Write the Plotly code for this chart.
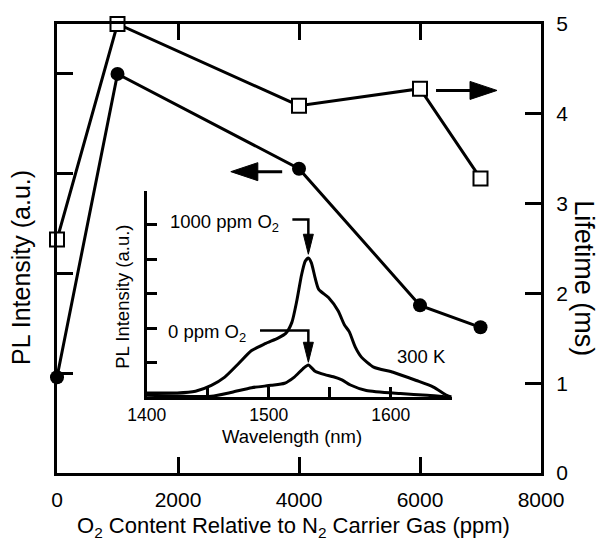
import plotly.graph_objects as go

# ---- main data ----
o2_ppm = [0, 1000, 4000, 6000, 7000]
pl_intensity = [0.96, 4.0, 3.05, 1.68, 1.46]
lifetime_ms = [2.6, 5.0, 4.09, 4.28, 3.28]

# ---- inset spectra ----
wl_1000 = [1400, 1425, 1440, 1453, 1464, 1475, 1486, 1497, 1508, 1514, 1519, 1523, 1527, 1530,
           1532.5, 1535, 1538, 1541, 1549, 1557, 1562, 1566, 1571, 1576, 1586, 1602, 1621, 1635,
           1646, 1650]
int_1000 = [0.12, 0.12, 0.17, 0.34, 0.58, 0.96, 1.35, 1.55, 1.72, 1.85, 2.17, 2.79, 3.56, 3.95,
            4.04, 3.9, 3.47, 3.13, 2.89, 2.5, 2.1, 1.9, 1.45, 1.16, 0.87, 0.72, 0.48, 0.29,
            0.05, 0.0]
wl_0 = [1400, 1425, 1453, 1470, 1486, 1502, 1513, 1521, 1528, 1532.5, 1538, 1546, 1553, 1560,
        1567, 1580, 1608, 1630, 1646]
int_0 = [0.05, 0.03, 0.02, 0.14, 0.27, 0.34, 0.40, 0.58, 0.82, 0.93, 0.75, 0.65, 0.59, 0.5,
         0.35, 0.19, 0.1, 0.05, 0.0]

main_xticks = [0, 2000, 4000, 6000, 8000]
right_ticks = [0, 1, 2, 3, 4, 5]
left_ticks = [1, 2, 3, 4]
inset_xticks = [1400, 1450, 1500, 1550, 1600, 1650]
inset_xtext = ["1400", "", "1500", "", "1600", ""]
inset_yticks = [1, 2, 3, 4, 5, 6]

FONT = "Liberation Sans, Arial, sans-serif"
BLACK = "black"

fig = go.Figure()

fig.add_trace(go.Scatter(x=o2_ppm, y=lifetime_ms, yaxis="y2", mode="lines+markers",
                         line=dict(color=BLACK, width=3),
                         marker=dict(symbol="square", size=14, color="white",
                                     line=dict(color=BLACK, width=2)),
                         cliponaxis=False, showlegend=False))
fig.add_trace(go.Scatter(x=o2_ppm, y=pl_intensity, yaxis="y", mode="lines+markers",
                         line=dict(color=BLACK, width=3),
                         marker=dict(symbol="circle", size=14, color=BLACK),
                         cliponaxis=False, showlegend=False))

fig.add_trace(go.Scatter(x=wl_1000, y=int_1000, xaxis="x3", yaxis="y3", mode="lines",
                         line=dict(color=BLACK, width=3, shape="spline", smoothing=0.6),
                         showlegend=False))
fig.add_trace(go.Scatter(x=wl_0, y=int_0, xaxis="x3", yaxis="y3", mode="lines",
                         line=dict(color=BLACK, width=3, shape="spline", smoothing=0.6),
                         showlegend=False))

axis_common = dict(showgrid=False, zeroline=False, showline=True, linecolor=BLACK,
                   linewidth=3, ticks="inside", tickcolor=BLACK)

fig.update_layout(
    width=600, height=540, autosize=False,
    margin=dict(l=57, r=59, t=22, b=67),
    paper_bgcolor="white", plot_bgcolor="rgba(0,0,0,0)",
    font=dict(family=FONT, color=BLACK, size=20),
    xaxis=dict(domain=[0, 1], range=[0, 8000], tickvals=main_xticks, ticklen=16, tickwidth=3,
               mirror="ticks", tickfont=dict(size=21), ticklabelstandoff=6, **axis_common),
    yaxis=dict(range=[0, 4.5], tickvals=left_ticks, showticklabels=False, ticklen=16,
               tickwidth=3, side="left", **axis_common),
    yaxis2=dict(range=[0, 5], tickvals=right_ticks, overlaying="y", side="right", ticklen=16,
                tickwidth=3, tickfont=dict(size=21), ticklabelstandoff=8, **axis_common),
    xaxis3=dict(domain=[0.1853, 0.8155], anchor="y3", range=[1400, 1650],
                tickvals=inset_xticks, ticktext=inset_xtext, ticklen=10, tickwidth=3,
                tickfont=dict(size=17.5), **axis_common),
    yaxis3=dict(domain=[0.1692, 0.629], anchor="x3", range=[0, 6], tickvals=inset_yticks,
                showticklabels=False, ticklen=10, tickwidth=3, **axis_common),
)

# axis titles as annotations
fig.add_annotation(text="O<sub>2</sub> Content Relative to N<sub>2</sub> Carrier Gas (ppm)",
                   xref="paper", yref="paper", x=0.4886, y=-0.12, xanchor="center",
                   yanchor="middle", showarrow=False, font=dict(size=22))
fig.add_annotation(text="PL Intensity (a.u.)", xref="paper", yref="paper", x=-0.0744,
                   y=0.459, textangle=-90, xanchor="center", yanchor="middle",
                   showarrow=False, font=dict(size=25))
fig.add_annotation(text="Lifetime (ms)", xref="paper", yref="paper", x=1.09, y=0.435,
                   textangle=90, xanchor="center", yanchor="middle", showarrow=False,
                   font=dict(size=27))
fig.add_annotation(text="Wavelength (nm)", xref="x3 domain", yref="y3 domain", x=0.476,
                   y=-0.19, xanchor="center", yanchor="middle", showarrow=False,
                   font=dict(size=18.5))
fig.add_annotation(text="PL Intensity (a.u.)", xref="x3 domain", yref="y3 domain", x=-0.078,
                   y=0.485, textangle=-90, xanchor="center", yanchor="middle",
                   showarrow=False, font=dict(size=18.5))

# inset labels
fig.add_annotation(text="1000 ppm O<sub>2</sub>", xref="x3", yref="y3", x=1417.5, y=5.05,
                   xanchor="left", yanchor="middle", showarrow=False, font=dict(size=18.5))
fig.add_annotation(text="0 ppm O<sub>2</sub>", xref="x3", yref="y3", x=1415.5, y=1.85,
                   xanchor="left", yanchor="middle", showarrow=False, font=dict(size=18.5))
fig.add_annotation(text="300 K", xref="x3", yref="y3", x=1625.6, y=1.18, xanchor="center",
                   yanchor="middle", showarrow=False, font=dict(size=18.5))

shapes = []
# main arrows
shapes.append(dict(type="line", xref="x", yref="y", x0=3722, x1=3000, y0=3.02, y1=3.02,
                   line=dict(color=BLACK, width=3)))
shapes.append(dict(type="path", xref="x", yref="y", xsizemode="pixel", ysizemode="pixel",
                   xanchor=2873, yanchor=3.02, path="M0,0 L27,9 L27,-9 Z",
                   fillcolor=BLACK, line=dict(color=BLACK, width=1)))
shapes.append(dict(type="line", xref="x", yref="y2", x0=6265, x1=7100, y0=4.26, y1=4.26,
                   line=dict(color=BLACK, width=3)))
shapes.append(dict(type="path", xref="x", yref="y2", xsizemode="pixel", ysizemode="pixel",
                   xanchor=7273, yanchor=4.26, path="M0,0 L-27,9 L-27,-9 Z",
                   fillcolor=BLACK, line=dict(color=BLACK, width=1)))
# inset bracket arrows
for (x_start, y_br, x_pk, y_tip) in [(1519.4, 5.16, 1532.5, 4.15), (1492.9, 1.93, 1532.5, 1.01)]:
    shapes.append(dict(type="path", xref="x3", yref="y3",
                       path=f"M{x_start},{y_br} L{x_pk},{y_br} L{x_pk},{y_tip + 0.3}",
                       line=dict(color=BLACK, width=2.5)))
    shapes.append(dict(type="path", xref="x3", yref="y3", xsizemode="pixel",
                       ysizemode="pixel", xanchor=x_pk, yanchor=y_tip,
                       path="M0,0 L-5,20 L5,20 Z", fillcolor=BLACK,
                       line=dict(color=BLACK, width=1)))
fig.update_layout(shapes=shapes)

fig.write_html("out.html")
